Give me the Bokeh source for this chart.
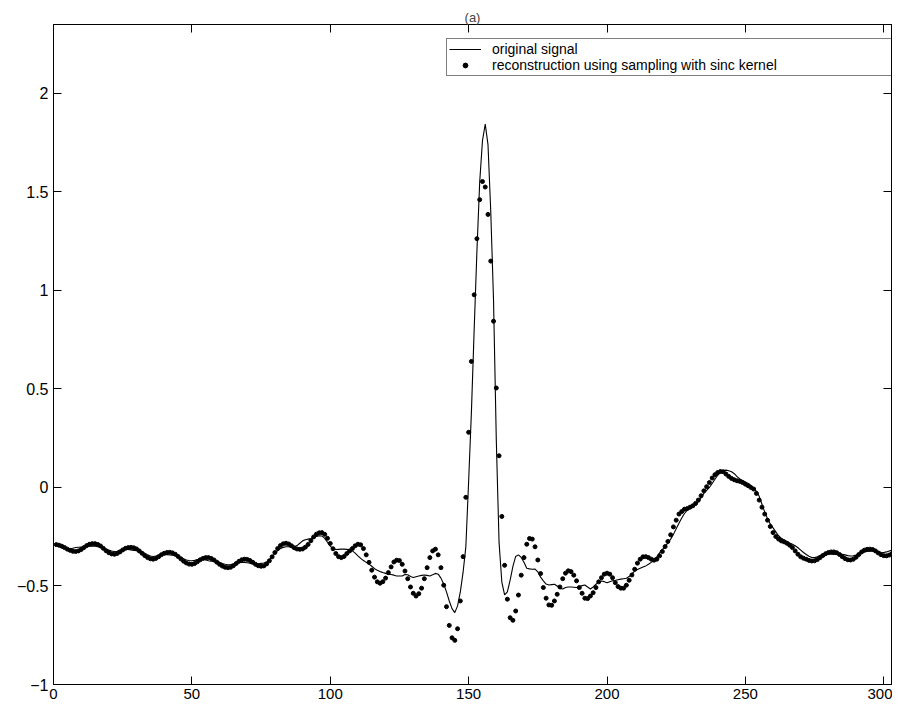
from bokeh.plotting import figure
from bokeh.models import (Range1d, FixedTicker, LinearAxis, CustomJSTickFormatter,
                          Legend, LegendItem)
from bokeh.embed import file_html
from bokeh.resources import INLINE

# ---------------- data ----------------
sample_index = list(range(1, 306))

reconstruction = [
    -0.290, -0.293, -0.298, -0.305, -0.313, -0.319, -0.324, -0.325, -0.322, -0.315,
    -0.305, -0.295, -0.288, -0.285, -0.285, -0.289, -0.297, -0.309, -0.321, -0.331,
    -0.337, -0.339, -0.335, -0.327, -0.317, -0.309, -0.305, -0.304, -0.306, -0.312,
    -0.322, -0.334, -0.346, -0.356, -0.362, -0.364, -0.360, -0.351, -0.341, -0.334,
    -0.330, -0.329, -0.332, -0.339, -0.350, -0.362, -0.374, -0.383, -0.389, -0.390,
    -0.386, -0.377, -0.367, -0.360, -0.356, -0.356, -0.360, -0.368, -0.379, -0.390,
    -0.399, -0.405, -0.407, -0.405, -0.397, -0.386, -0.375, -0.367, -0.364, -0.365,
    -0.371, -0.380, -0.390, -0.397, -0.400, -0.398, -0.388, -0.372, -0.352, -0.330,
    -0.310, -0.295, -0.286, -0.283, -0.287, -0.296, -0.306, -0.312, -0.314, -0.312,
    -0.303, -0.289, -0.270, -0.251, -0.237, -0.230, -0.229, -0.238, -0.258, -0.284,
    -0.311, -0.335, -0.351, -0.356, -0.350, -0.335, -0.322, -0.310, -0.296, -0.288,
    -0.291, -0.310, -0.342, -0.380, -0.420, -0.455, -0.479, -0.486, -0.478, -0.460,
    -0.432, -0.403, -0.378, -0.369, -0.371, -0.390, -0.424, -0.463, -0.505, -0.537,
    -0.551, -0.539, -0.511, -0.463, -0.407, -0.356, -0.322, -0.313, -0.342, -0.407,
    -0.496, -0.605, -0.700, -0.763, -0.776, -0.717, -0.576, -0.351, -0.050, 0.280,
    0.640, 0.978, 1.263, 1.461, 1.553, 1.525, 1.386, 1.149, 0.844, 0.505,
    0.161, -0.147, -0.395, -0.567, -0.661, -0.674, -0.627, -0.546, -0.445, -0.356,
    -0.288, -0.259, -0.262, -0.301, -0.368, -0.437, -0.508, -0.562, -0.596, -0.598,
    -0.576, -0.542, -0.505, -0.463, -0.435, -0.423, -0.427, -0.445, -0.474, -0.508,
    -0.537, -0.562, -0.564, -0.551, -0.534, -0.508, -0.479, -0.458, -0.440, -0.435,
    -0.440, -0.458, -0.483, -0.503, -0.511, -0.511, -0.496, -0.471, -0.444, -0.415,
    -0.384, -0.364, -0.352, -0.351, -0.356, -0.364, -0.369, -0.364, -0.347, -0.325,
    -0.300, -0.274, -0.240, -0.200, -0.166, -0.135, -0.122, -0.110, -0.107, -0.100,
    -0.093, -0.081, -0.064, -0.042, -0.017, 0.004, 0.025, 0.048, 0.065, 0.076,
    0.081, 0.080, 0.068, 0.056, 0.046, 0.039, 0.034, 0.031, 0.025, 0.017,
    0.009, 0.000, -0.008, -0.030, -0.064, -0.100, -0.135, -0.166, -0.198, -0.229,
    -0.249, -0.262, -0.271, -0.276, -0.283, -0.293, -0.305, -0.322, -0.339, -0.352,
    -0.359, -0.364, -0.370, -0.373, -0.372, -0.366, -0.356, -0.345, -0.336, -0.330,
    -0.327, -0.327, -0.331, -0.340, -0.351, -0.361, -0.367, -0.368, -0.364, -0.354,
    -0.340, -0.327, -0.318, -0.314, -0.313, -0.315, -0.322, -0.332, -0.341, -0.346,
    -0.347, -0.343, -0.335, -0.326, -0.320,
]

original = [
    -0.295, -0.300, -0.306, -0.310, -0.312, -0.311, -0.308, -0.305, -0.303, -0.302,
    -0.301, -0.300, -0.298, -0.297, -0.298, -0.301, -0.305, -0.309, -0.313, -0.318,
    -0.322, -0.325, -0.324, -0.319, -0.315, -0.313, -0.314, -0.317, -0.319, -0.320,
    -0.322, -0.327, -0.334, -0.342, -0.348, -0.350, -0.348, -0.344, -0.341, -0.340,
    -0.341, -0.343, -0.344, -0.345, -0.349, -0.355, -0.362, -0.368, -0.371, -0.372,
    -0.370, -0.366, -0.364, -0.365, -0.368, -0.372, -0.374, -0.373, -0.375, -0.380,
    -0.386, -0.390, -0.392, -0.391, -0.388, -0.383, -0.380, -0.379, -0.380, -0.382,
    -0.385, -0.387, -0.388, -0.387, -0.385, -0.383, -0.378, -0.368, -0.352, -0.335,
    -0.320, -0.310, -0.304, -0.301, -0.301, -0.303, -0.302, -0.295, -0.283, -0.271,
    -0.265, -0.262, -0.259, -0.254, -0.248, -0.245, -0.246, -0.258, -0.278, -0.298,
    -0.311, -0.315, -0.314, -0.313, -0.313, -0.314, -0.318, -0.322, -0.333, -0.347,
    -0.360, -0.371, -0.380, -0.389, -0.400, -0.412, -0.420, -0.427, -0.432, -0.436,
    -0.440, -0.442, -0.445, -0.449, -0.449, -0.449, -0.442, -0.443, -0.452, -0.457,
    -0.453, -0.449, -0.446, -0.444, -0.446, -0.449, -0.443, -0.436, -0.440, -0.460,
    -0.490, -0.530, -0.576, -0.615, -0.635, -0.601, -0.530, -0.430, -0.300, 0.030,
    0.380, 0.800, 1.200, 1.550, 1.760, 1.844, 1.740, 1.400, 0.950, 0.240,
    -0.280, -0.480, -0.545, -0.530, -0.470, -0.400, -0.350, -0.342, -0.355, -0.380,
    -0.410, -0.413, -0.415, -0.414, -0.428, -0.455, -0.474, -0.490, -0.495, -0.493,
    -0.491, -0.500, -0.512, -0.515, -0.508, -0.505, -0.505, -0.506, -0.508, -0.504,
    -0.498, -0.495, -0.505, -0.515, -0.505, -0.491, -0.482, -0.475, -0.478, -0.483,
    -0.478, -0.473, -0.471, -0.468, -0.465, -0.463, -0.461, -0.452, -0.438, -0.425,
    -0.416, -0.410, -0.404, -0.398, -0.390, -0.380, -0.370, -0.352, -0.332, -0.315,
    -0.298, -0.282, -0.262, -0.238, -0.210, -0.182, -0.155, -0.132, -0.115, -0.105,
    -0.098, -0.088, -0.072, -0.052, -0.030, -0.015, 0.000, 0.020, 0.042, 0.062,
    0.077, 0.085, 0.088, 0.085, 0.080, 0.070, 0.055, 0.043, 0.035, 0.028,
    0.020, 0.010, -0.005, -0.020, -0.045, -0.085, -0.125, -0.158, -0.185, -0.205,
    -0.225, -0.245, -0.258, -0.266, -0.274, -0.282, -0.288, -0.296, -0.306, -0.318,
    -0.330, -0.340, -0.349, -0.355, -0.356, -0.352, -0.345, -0.340, -0.338, -0.338,
    -0.339, -0.340, -0.339, -0.338, -0.339, -0.342, -0.346, -0.348, -0.347, -0.343,
    -0.337, -0.331, -0.327, -0.325, -0.324, -0.322, -0.322, -0.325, -0.329, -0.330,
    -0.327, -0.322, -0.318, -0.315, -0.313,
]

x_ticks = [0, 50, 100, 150, 200, 250, 300]
y_ticks = [-1, -0.5, 0, 0.5, 1, 1.5, 2]
title_text = "(a)"
legend_labels = ["original signal", "reconstruction using sampling with sinc kernel"]

# ---------------- figure ----------------
FONT = "Liberation Sans"
p = figure(width=892, height=701, output_backend="svg", toolbar_location=None,
           x_range=Range1d(0, 302.8), y_range=Range1d(-1, 2.35),
           min_border_left=53, min_border_right=1, min_border_top=24, min_border_bottom=17)
p.grid.visible = False
p.outline_line_color = "black"
p.outline_line_width = 1
p.background_fill_color = "white"
p.border_fill_color = "white"

p.title.text = title_text
p.title.align = "center"
p.title.text_font = FONT
p.title.text_font_size = "13px"
p.title.text_font_style = "normal"
p.title.standoff = 0
p.title.offset = 0

minus_fmt = CustomJSTickFormatter(code="return tick < 0 ? '\\u2212' + (-tick) : '' + tick;")
blank_fmt = CustomJSTickFormatter(code="return '';")

def style_axis(ax, ticks, fmt, show_labels=True):
    ax.ticker = FixedTicker(ticks=ticks)
    ax.formatter = fmt
    ax.major_tick_in = 8
    ax.major_tick_out = 0
    ax.minor_tick_line_color = None
    ax.axis_line_color = "black"
    ax.major_tick_line_color = "black"
    ax.major_label_text_font = FONT
    ax.major_label_text_color = "black"
    if show_labels:
        ax.major_label_text_font_size = "16px"
    else:
        ax.major_label_text_font_size = "0px"
        ax.major_label_standoff = 0

style_axis(p.xaxis[0], x_ticks, minus_fmt)
p.xaxis[0].major_label_text_font_size = "15px"
p.xaxis[0].major_label_standoff = 4
style_axis(p.yaxis[0], y_ticks, minus_fmt)
p.yaxis[0].major_label_standoff = 5

ax_top = LinearAxis()
style_axis(ax_top, x_ticks, blank_fmt, show_labels=False)
p.add_layout(ax_top, "above")
ax_right = LinearAxis()
style_axis(ax_right, y_ticks, blank_fmt, show_labels=False)
p.add_layout(ax_right, "right")

r_line = p.line(sample_index, original, line_color="black", line_width=1.1)
r_dots = p.scatter(sample_index, reconstruction, size=4, marker="circle",
                   fill_color="black", line_color="black")

legend = Legend(items=[LegendItem(label=legend_labels[0], renderers=[r_line]),
                       LegendItem(label=legend_labels[1], renderers=[r_dots])],
                location=(393, 608))
legend.label_text_font = FONT
legend.label_text_font_size = "14px"
legend.label_text_color = "black"
legend.glyph_width = 32
legend.glyph_height = 12
legend.label_height = 12
legend.label_standoff = 11
legend.label_width = 398
legend.padding = 2
legend.spacing = 0
legend.margin = 0
legend.border_line_color = "black"
legend.border_line_width = 1
legend.background_fill_alpha = 1
p.add_layout(legend)

open("out.html", "w").write(file_html(p, INLINE))
